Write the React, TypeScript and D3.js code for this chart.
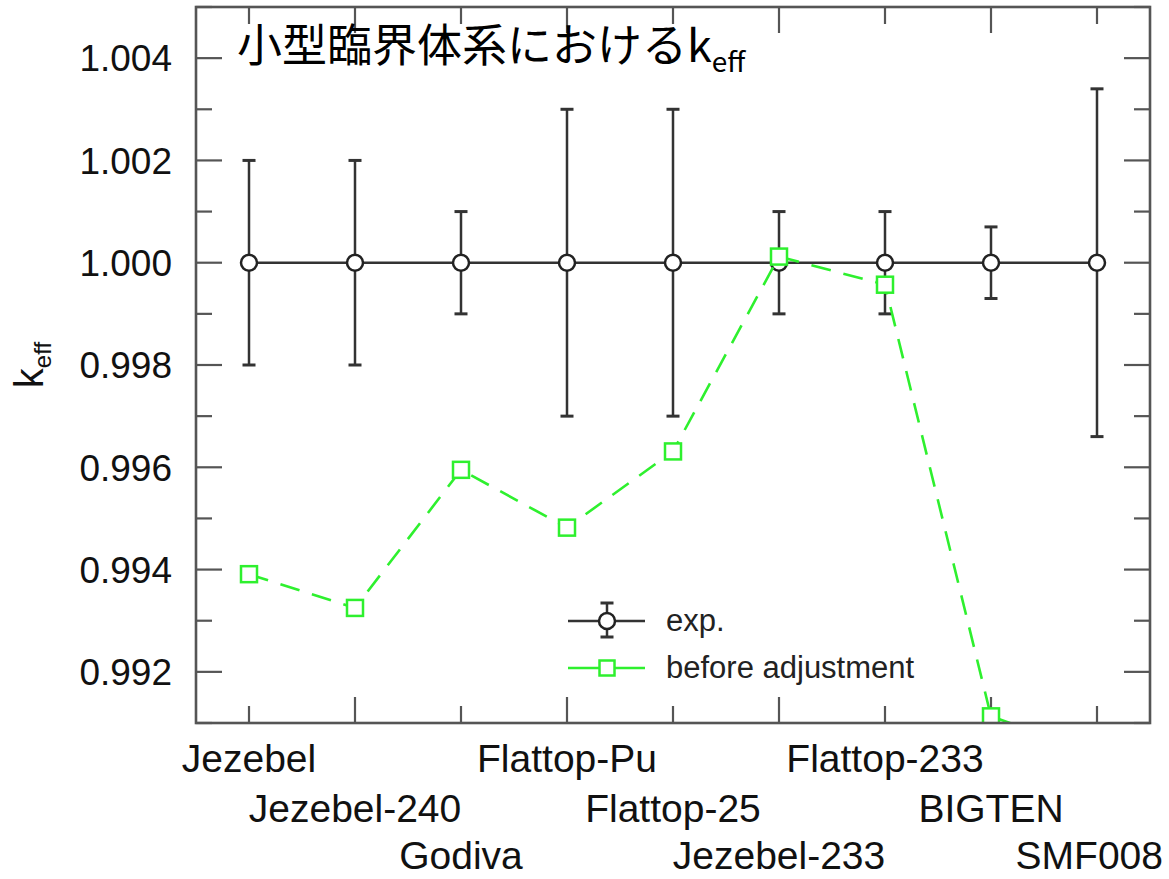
import React from "react";
import * as d3 from "d3";

// Benchmark assemblies (fast critical systems)
const systems = [
  "Jezebel",
  "Jezebel-240",
  "Godiva",
  "Flattop-Pu",
  "Flattop-25",
  "Jezebel-233",
  "Flattop-233",
  "BIGTEN",
  "SMF008",
];

// Experimental k_eff and its uncertainty
const expValues = [1.0, 1.0, 1.0, 1.0, 1.0, 1.0, 1.0, 1.0, 1.0];
const expErrors = [0.002, 0.002, 0.001, 0.003, 0.003, 0.001, 0.001, 0.0007, 0.0034];

// Calculated k_eff before adjustment
const beforeValues = [0.99391, 0.99325, 0.99595, 0.99482, 0.99631, 1.00012, 0.99957, 0.99113, 0.9904];

const yMajorTicks = [0.992, 0.994, 0.996, 0.998, 1.0, 1.002, 1.004];
const yMinorTicks = [0.991, 0.993, 0.995, 0.997, 0.999, 1.001, 1.003, 1.005];

const W = 1169;
const H = 879;
const left = 196;
const right = 1150;
const top = 7;
const bottom = 723;

const GREEN = "#2ef02e";
const FRAME = "#555";
const INK = "#333";
const FONT = "'Liberation Sans', Arial, Helvetica, sans-serif";
const JP = "'Noto Sans CJK JP', 'Noto Sans', sans-serif";

export default function App() {
  const x = d3.scaleLinear().domain([0.5, 9.5]).range([left, right]);
  const y = d3.scaleLinear().domain([0.991, 1.005]).range([bottom, top]);

  const idx = systems.map((_, i) => i + 1);
  const xMajor = idx.filter((v) => v % 2 === 0);
  const xMinor = idx.filter((v) => v % 2 === 1);

  const expLine = d3
    .line<number>()
    .x((_, i) => x(i + 1))
    .y((d) => y(d))(expValues) as string;

  const beforeLine = d3
    .line<number>()
    .x((_, i) => x(i + 1))
    .y((d) => y(d))(beforeValues) as string;

  const sq = 16;
  const capW = 13;
  const rowBaselines = [772, 822, 869];
  const labelSize = 39;

  return (
    <svg width={W} height={H} style={{ display: "block", position: "absolute", left: 0, top: 0, background: "#fff" }}>
      <defs>
        <clipPath id="plotClip">
          <rect x={left} y={top} width={right - left} height={bottom - top} />
        </clipPath>
      </defs>

      {/* y ticks on both sides, x ticks on top and bottom */}
      <g stroke={FRAME} strokeWidth={2.2}>
        {yMajorTicks.map((t) => (
          <g key={"ym" + t}>
            <line x1={left} x2={left + 26} y1={y(t)} y2={y(t)} />
            <line x1={right} x2={right - 26} y1={y(t)} y2={y(t)} />
          </g>
        ))}
        {yMinorTicks.map((t) => (
          <g key={"yn" + t}>
            <line x1={left} x2={left + 16} y1={y(t)} y2={y(t)} />
            <line x1={right} x2={right - 16} y1={y(t)} y2={y(t)} />
          </g>
        ))}
        {xMajor.map((t) => (
          <g key={"xm" + t}>
            <line x1={x(t)} x2={x(t)} y1={bottom} y2={bottom - 26} />
            <line x1={x(t)} x2={x(t)} y1={top} y2={top + 26} />
          </g>
        ))}
        {xMinor.map((t) => (
          <g key={"xn" + t}>
            <line x1={x(t)} x2={x(t)} y1={bottom} y2={bottom - 17} />
            <line x1={x(t)} x2={x(t)} y1={top} y2={top + 17} />
          </g>
        ))}
      </g>

      {/* y tick labels */}
      <g fontFamily={FONT} fontSize={37} fill="#111" textAnchor="end">
        {yMajorTicks.map((t) => (
          <text key={"yl" + t} x={172} y={y(t)} dy="0.36em">
            {d3.format(".3f")(t)}
          </text>
        ))}
      </g>

      {/* x category labels, staggered in three rows */}
      <g fontFamily={FONT} fontSize={labelSize} fill="#111">
        {systems.map((s, i) => {
          const cx = x(i + 1);
          const est = s.length * labelSize * 0.62;
          const overflow = cx + est / 2 > W - 6;
          return (
            <text
              key={s}
              x={overflow ? W - 6 : cx}
              y={rowBaselines[i % 3]}
              textAnchor={overflow ? "end" : "middle"}
            >
              {s}
            </text>
          );
        })}
      </g>

      {/* y axis title */}
      <text
        transform={`translate(43, ${(top + bottom) / 2}) rotate(-90)`}
        fontFamily={FONT}
        fontSize={40}
        fill="#111"
        textAnchor="middle"
      >
        k
        <tspan fontSize={24} dy={8}>
          eff
        </tspan>
      </text>

      {/* experimental values with error bars */}
      <g clipPath="url(#plotClip)">
        <path d={expLine} fill="none" stroke={INK} strokeWidth={2.5} />
        {expValues.map((v, i) => {
          const cx = x(i + 1);
          const e = expErrors[i];
          return (
            <g key={"e" + i} stroke={INK} strokeWidth={2.5}>
              <line x1={cx} x2={cx} y1={y(v + e)} y2={y(v - e)} />
              <line x1={cx - capW / 2} x2={cx + capW / 2} y1={y(v + e)} y2={y(v + e)} strokeWidth={3} />
              <line x1={cx - capW / 2} x2={cx + capW / 2} y1={y(v - e)} y2={y(v - e)} strokeWidth={3} />
            </g>
          );
        })}
        {expValues.map((v, i) => (
          <circle key={"c" + i} cx={x(i + 1)} cy={y(v)} r={8} fill="#fff" stroke="#222" strokeWidth={2.5} />
        ))}

        {/* calculated values before adjustment */}
        <path d={beforeLine} fill="none" stroke={GREEN} strokeWidth={2.6} strokeDasharray="20 13" />
        {beforeValues.map((v, i) => (
          <rect
            key={"s" + i}
            x={x(i + 1) - sq / 2}
            y={y(v) - sq / 2}
            width={sq}
            height={sq}
            fill="#fff"
            stroke={GREEN}
            strokeWidth={2.5}
          />
        ))}
      </g>

      {/* frame */}
      <rect x={left} y={top} width={right - left} height={bottom - top} fill="none" stroke={FRAME} strokeWidth={2.6} />

      {/* title */}
      <text x={237} y={62} fontFamily={JP} fontSize={45} fill="#000">
        小型臨界体系におけるk
        <tspan fontSize={28} dy={10}>
          eff
        </tspan>
      </text>

      {/* legend */}
      <g>
        <line x1={568} x2={645} y1={621} y2={621} stroke={INK} strokeWidth={2.5} />
        <line x1={607} x2={607} y1={603} y2={637} stroke={INK} strokeWidth={2.5} />
        <line x1={600.5} x2={613.5} y1={603} y2={603} stroke={INK} strokeWidth={3} />
        <line x1={600.5} x2={613.5} y1={637} y2={637} stroke={INK} strokeWidth={3} />
        <circle cx={607} cy={621} r={8} fill="#fff" stroke="#222" strokeWidth={2.5} />
        <line x1={568} x2={645} y1={668} y2={668} stroke={GREEN} strokeWidth={2.6} />
        <rect x={599.5} y={660.5} width={15} height={15} fill="#fff" stroke={GREEN} strokeWidth={2.5} />
        <text x={666} y={621} dy="0.33em" fontFamily={FONT} fontSize={31} fill="#222">
          exp.
        </text>
        <text x={666} y={668} dy="0.33em" fontFamily={FONT} fontSize={31} fill="#222">
          before adjustment
        </text>
      </g>
    </svg>
  );
}
